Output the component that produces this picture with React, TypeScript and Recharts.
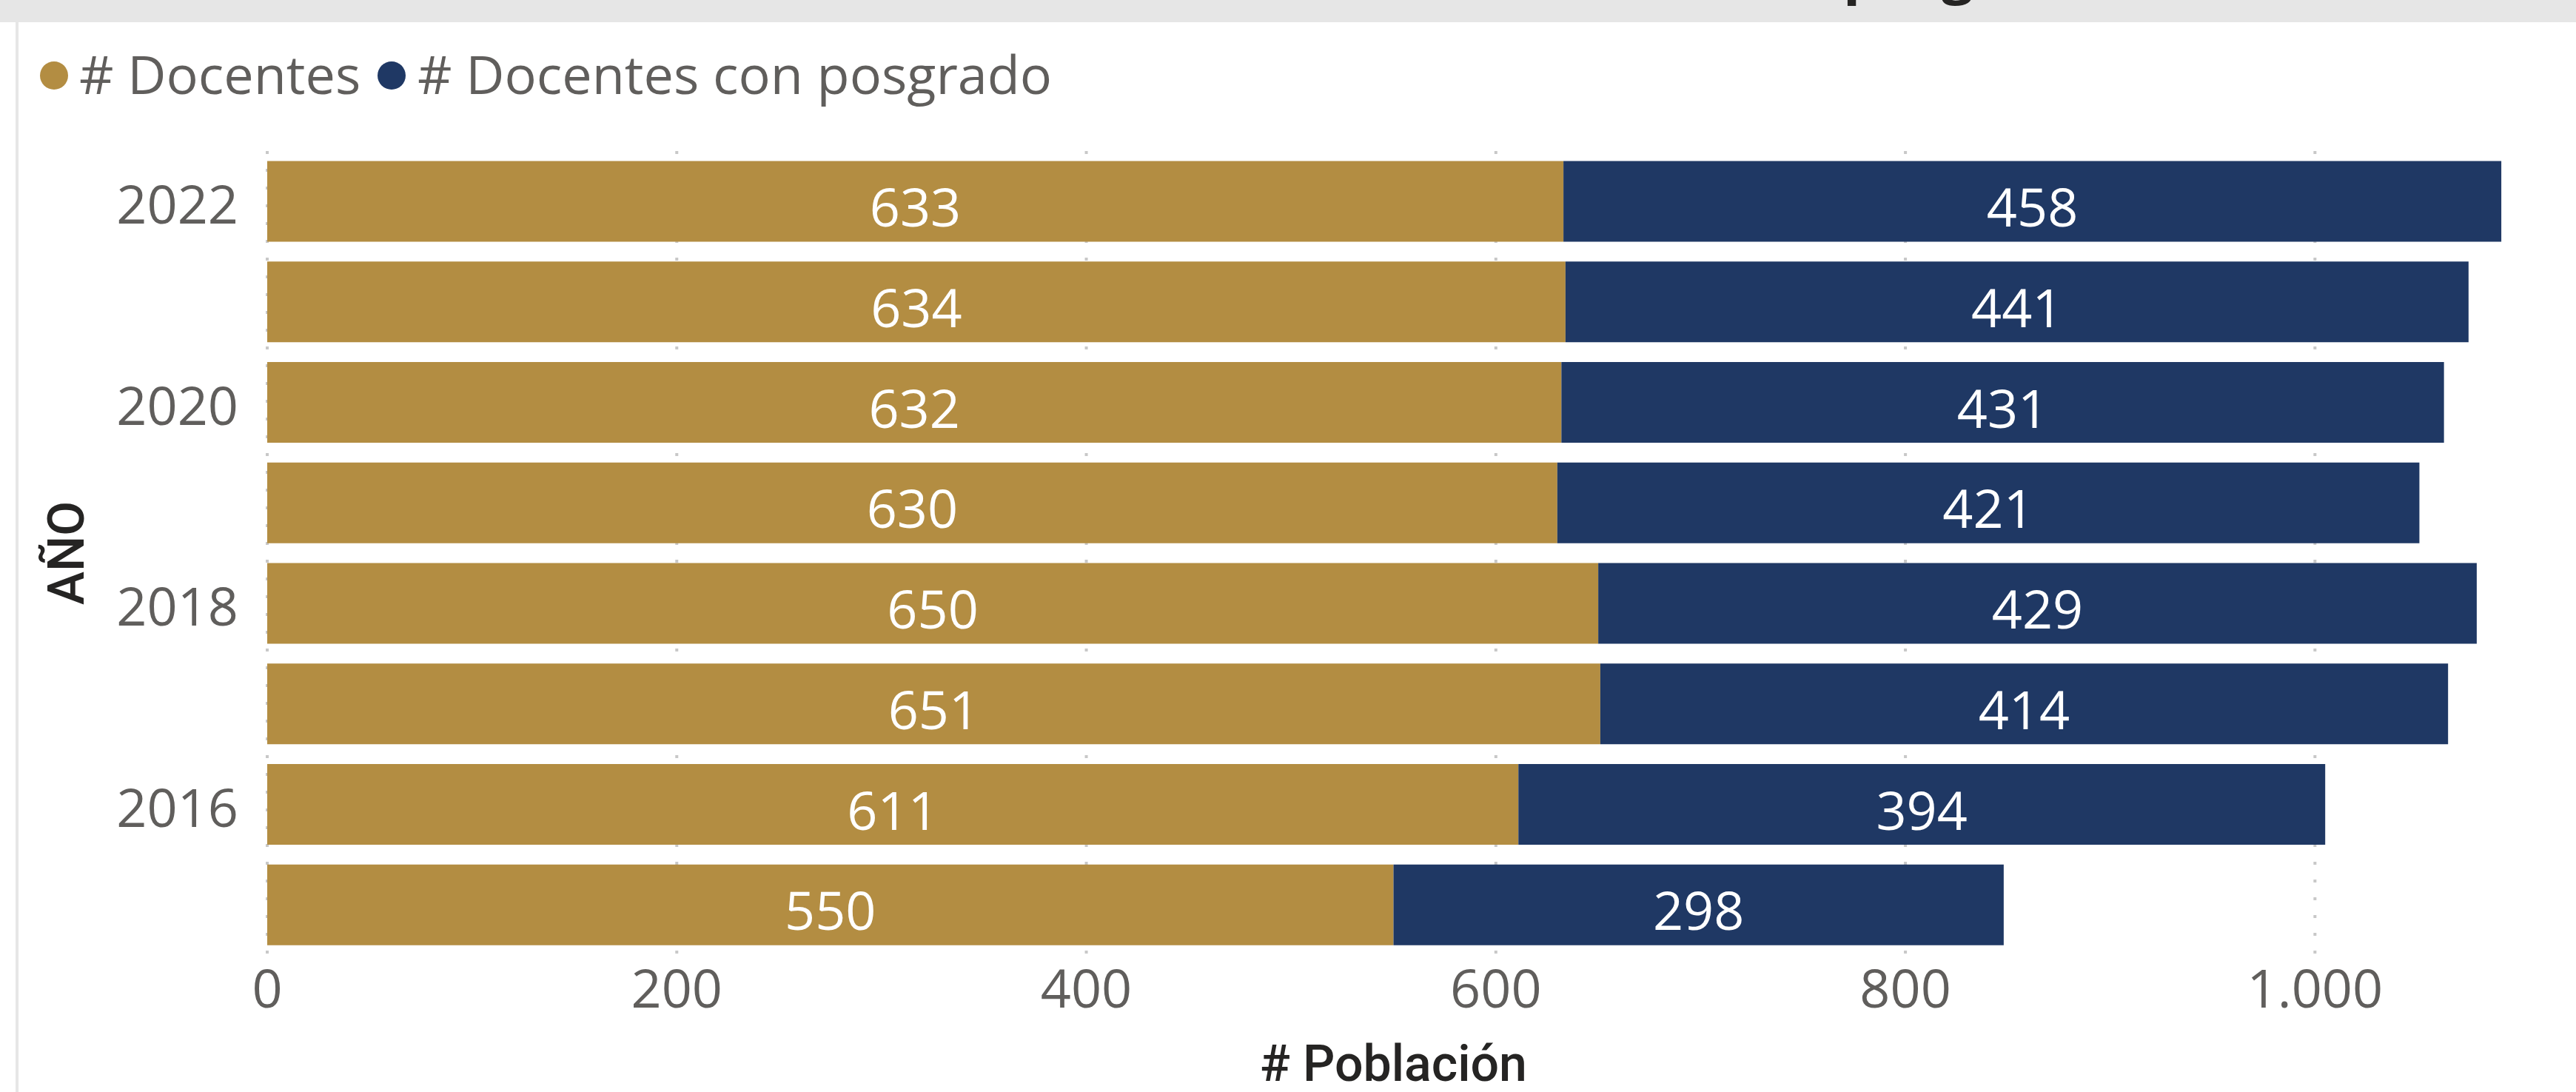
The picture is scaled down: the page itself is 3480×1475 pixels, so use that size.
import React from 'react'
import { BarChart, Bar, XAxis, YAxis, CartesianGrid, LabelList } from 'recharts'

const years = ['2022', '2021', '2020', '2019', '2018', '2017', '2016', '2015']
const docentes = [633, 634, 632, 630, 650, 651, 611, 550]
const docentesPosgrado = [458, 441, 431, 421, 429, 414, 394, 298]
const xTicks = [0, 200, 400, 600, 800, 1000]

const GOLD = '#b38d42'
const NAVY = '#1f3864'
const GRAY_TEXT = '#605e5c'
const DARK_TEXT = '#252423'
const FONT = '"Open Sans", "Noto Sans", sans-serif'
const TITLE_FONT = 'Roboto, "Noto Sans", sans-serif'

const data = years.map((year, i) => ({
    year,
    docentes: docentes[i],
    posgrado: docentesPosgrado[i],
}))

const formatThousands = (v: number) => v.toLocaleString('de-DE')

function CenterLabel(props: any) {
    const { x, y, width, height, value } = props
    return (
        <text
            x={x + width / 2}
            y={y + height / 2 + 34}
            textAnchor="middle"
            fill="#ffffff"
            fontSize={72}
            fontFamily={FONT}
        >
            {value}
        </text>
    )
}

function YTitle(props: any) {
    const vb = props.viewBox
    const cy = vb.y + vb.height / 2
    return (
        <text
            x={113}
            y={cy}
            transform={`rotate(-90, 113, ${cy})`}
            textAnchor="middle"
            fill={DARK_TEXT}
            fontSize={68}
            fontWeight={500}
            fontFamily={TITLE_FONT}
        >
            AÑO
        </text>
    )
}

export default function App() {
    return (
        <div style={{ position: 'absolute', left: 0, top: 0, width: 3480, height: 1475, background: '#fff', overflow: 'hidden' }}>
            <div style={{ position: 'absolute', left: 0, top: 0 }}>
                <BarChart
                    width={3480}
                    height={1475}
                    data={data}
                    layout="vertical"
                    margin={{ top: 204, right: 76, bottom: 0, left: 0 }}
                    barCategoryGap="10%"
                >
                    <CartesianGrid
                        horizontal={false}
                        verticalValues={xTicks}
                        stroke="#c8c8c8"
                        strokeWidth={4}
                        strokeDasharray="4 20"
                    />
                    <XAxis
                        type="number"
                        domain={[0, 1100]}
                        ticks={xTicks}
                        tickFormatter={formatThousands}
                        axisLine={false}
                        tickLine={false}
                        tickSize={0}
                        tickMargin={20}
                        height={185}
                        tick={{ fill: GRAY_TEXT, fontSize: 72, fontFamily: FONT }}
                        label={{
                            value: '# Población',
                            position: 'insideBottom',
                            offset: 15,
                            fill: DARK_TEXT,
                            fontSize: 68,
                            fontWeight: 500,
                            fontFamily: TITLE_FONT,
                        }}
                    />
                    <YAxis
                        type="category"
                        dataKey="year"
                        width={361}
                        interval={1}
                        axisLine={false}
                        tickLine={false}
                        tickSize={0}
                        tickMargin={39}
                        tick={{ fill: GRAY_TEXT, fontSize: 72, fontFamily: FONT, dy: 5 }}
                        label={{ content: YTitle }}
                    />
                    <Bar dataKey="docentes" name="# Docentes" stackId="a" fill={GOLD} isAnimationActive={false}>
                        <LabelList dataKey="docentes" content={CenterLabel} />
                    </Bar>
                    <Bar dataKey="posgrado" name="# Docentes con posgrado" stackId="a" fill={NAVY} isAnimationActive={false}>
                        <LabelList dataKey="posgrado" content={CenterLabel} />
                    </Bar>
                </BarChart>
            </div>
            <svg
                width={3480}
                height={1475}
                style={{ position: 'absolute', left: 0, top: 0, pointerEvents: 'none' }}
            >
                <rect x={0} y={0} width={3480} height={30} fill="#e6e6e6" />
                <rect x={21} y={30} width={4} height={1445} fill="#e6e6e6" />
                <text x={2475} y={-10} textAnchor="end" fill={DARK_TEXT} fontSize={76} fontWeight={700} fontFamily={FONT}>
                    # Docentes vs # Docentes con
                </text>
                <text x={2490} y={-10} textAnchor="start" fill={DARK_TEXT} fontSize={76} fontWeight={700} fontFamily={FONT}>
                    posgrado
                </text>
                <circle cx={73} cy={102} r={19} fill={GOLD} />
                <text x={107} y={127} fill={GRAY_TEXT} fontSize={72} fontFamily={FONT}>
                    # Docentes
                </text>
                <circle cx={529} cy={102} r={19} fill={NAVY} />
                <text x={564} y={127} fill={GRAY_TEXT} fontSize={72} fontFamily={FONT}>
                    # Docentes con posgrado
                </text>
            </svg>
        </div>
    )
}
